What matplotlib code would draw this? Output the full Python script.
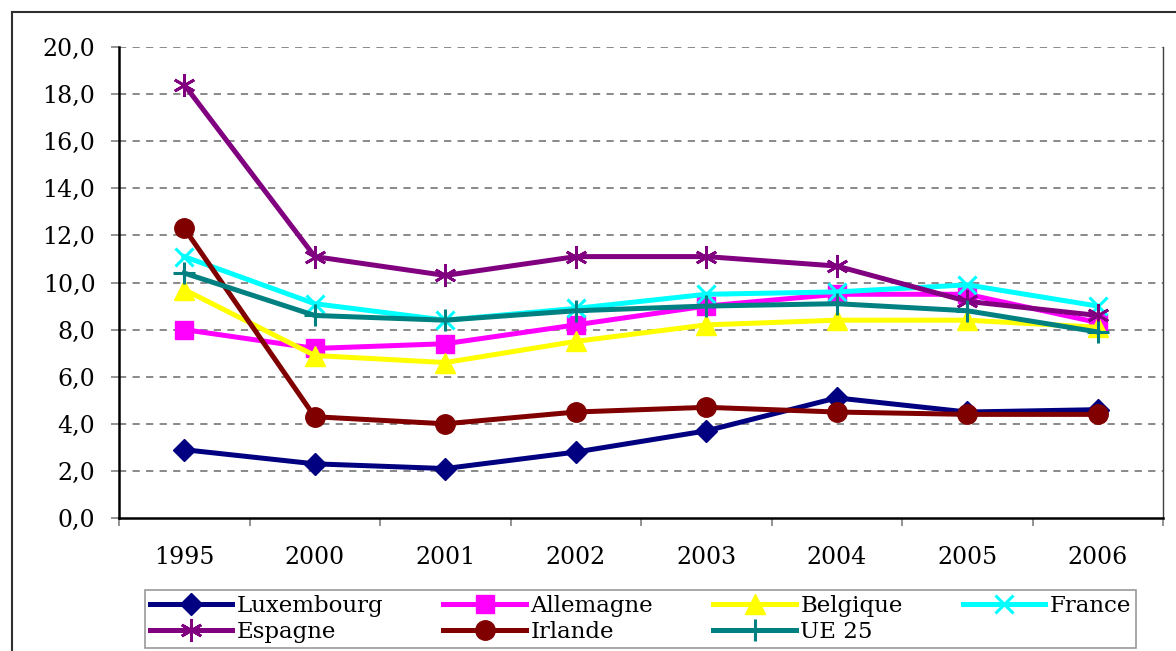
import matplotlib
matplotlib.use("Agg")
import matplotlib.pyplot as plt
from matplotlib.lines import Line2D
from matplotlib.ticker import FuncFormatter, FixedLocator

years = ["1995", "2000", "2001", "2002", "2003", "2004", "2005", "2006"]

luxembourg = [2.9, 2.3, 2.1, 2.8, 3.7, 5.1, 4.5, 4.6]
allemagne = [8.0, 7.2, 7.4, 8.2, 9.0, 9.5, 9.5, 8.3]
belgique = [9.7, 6.9, 6.6, 7.5, 8.2, 8.4, 8.4, 8.1]
france = [11.1, 9.1, 8.4, 8.9, 9.5, 9.6, 9.9, 9.0]
espagne = [18.4, 11.1, 10.3, 11.1, 11.1, 10.7, 9.2, 8.6]
irlande = [12.3, 4.3, 4.0, 4.5, 4.7, 4.5, 4.4, 4.4]
ue25 = [10.4, 8.6, 8.4, 8.8, 9.0, 9.1, 8.8, 7.9]

series = [
    ("Luxembourg", luxembourg, "#000080", "D", 11, 1.0),
    ("Allemagne", allemagne, "#FF00FF", "s", 13, 1.0),
    ("Belgique", belgique, "#FFFF00", "^", 14, 1.0),
    ("France", france, "#00FFFF", "x", 13, 2.2),
    ("Espagne", espagne, "#800080", (6, 2, 0), 16, 2.0),
    ("Irlande", irlande, "#800000", "o", 14, 1.0),
    ("UE 25", ue25, "#008080", "+", 16, 2.2),
]

plt.rcParams["font.family"] = ["DejaVu Serif"]

W, H = 1176, 651
fig = plt.figure(figsize=(W / 100, H / 100), dpi=100)
ax = fig.add_axes([119 / W, 1 - 518 / H, (1163 - 119) / W, (518 - 47) / H])

x = list(range(len(years)))
handles = {}
for name, vals, col, mk, ms, mew in series:
    h, = ax.plot(x, vals, color=col, lw=3.6, marker=mk, markersize=ms,
                 markerfacecolor=col, markeredgecolor=col, markeredgewidth=mew,
                 label=name, clip_on=False)
    handles[name] = h

ax.set_xlim(-0.5, len(years) - 0.5)
ax.set_ylim(0, 20)
ax.set_yticks([i * 2.0 for i in range(11)])
ax.yaxis.set_major_formatter(FuncFormatter(lambda v, p: f"{v:.1f}".replace(".", ",")))
ax.set_xticks(x)
ax.set_xticklabels(years)
ax.xaxis.set_minor_locator(FixedLocator([i - 0.5 for i in range(len(years) + 1)]))
ax.tick_params(axis="x", which="major", length=0, pad=20, labelsize=17)
ax.tick_params(axis="x", which="minor", length=6, width=1.2, color="#808080", direction="out")
ax.tick_params(axis="y", length=6, width=1.2, color="#808080", pad=11, labelsize=17)

for v in range(2, 21, 2):
    ax.axhline(v, color="#808080", lw=1.3, ls=(0, (4, 3.5)), zorder=0)

ax.spines["top"].set_visible(False)
ax.spines["left"].set_linewidth(1.8)
ax.spines["bottom"].set_linewidth(1.8)
ax.spines["right"].set_linewidth(1.0)
ax.spines["right"].set_color("#404040")

# matplotlib fills legend columns first; reorder so rows read like the original
leg_order = ["Luxembourg", "Espagne", "Allemagne", "Irlande", "Belgique", "UE 25", "France"]
leg = fig.legend(handles=[handles[n] for n in leg_order], ncol=4, loc="lower left",
                 bbox_to_anchor=(145 / W, 1 - 648 / H, (1136 - 145) / W, (648 - 586) / H),
                 mode="expand", frameon=True, fancybox=False, fontsize=16.5,
                 handlelength=3.6, handletextpad=0.2, borderaxespad=0,
                 borderpad=0.2, labelspacing=0.2, columnspacing=0.8)
leg.get_frame().set_edgecolor("#808080")
leg.get_frame().set_linewidth(1.2)

# outer chart frame
fig.add_artist(Line2D([12 / W, 12 / W], [0, 1 - 12 / H], transform=fig.transFigure,
                      color="#303030", lw=1.5))
fig.add_artist(Line2D([12 / W, 1], [1 - 12 / H, 1 - 12 / H], transform=fig.transFigure,
                      color="#303030", lw=1.5))

fig.savefig("out.png", dpi=100)
